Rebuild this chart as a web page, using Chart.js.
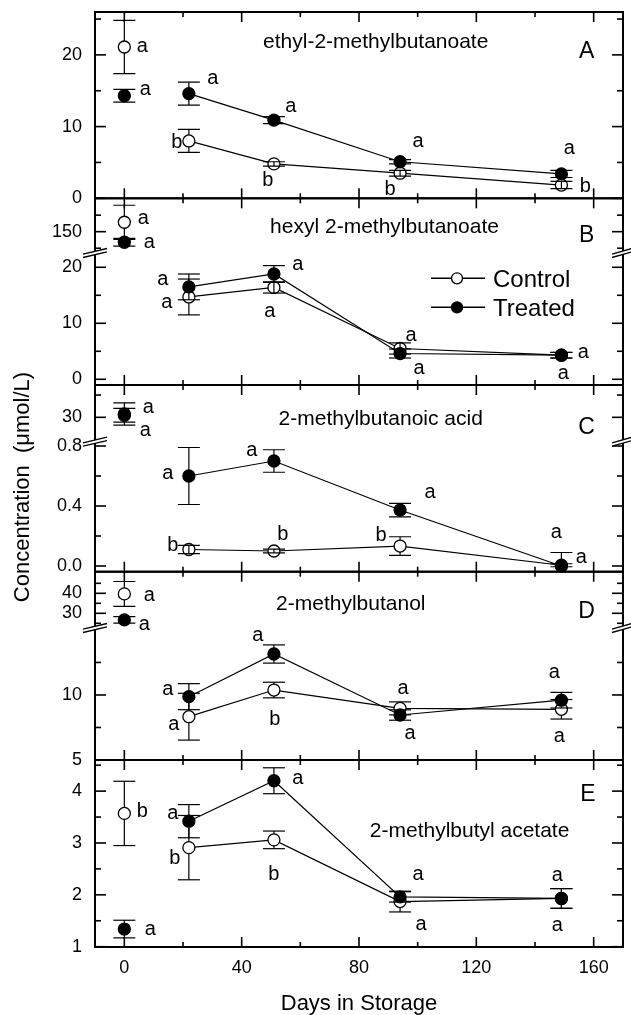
<!DOCTYPE html>
<html>
<head>
<meta charset="utf-8">
<title>Ester and alcohol concentrations during storage</title>
<script src="https://cdn.jsdelivr.net/npm/chart.js@4.4.1/dist/chart.umd.min.js"></script>
<style>
    html, body { margin: 0; padding: 0; background: #fff; }
    #fig { display: block; }
</style>
</head>
<body>
<canvas id="fig" width="631" height="1015"></canvas>
<script>
// Jours de stockage et graduations de l'axe X
const days = [0, 22, 51, 94, 149];
const xTickValues = [0, 40, 80, 120, 160];
const seriesNames = ['Control', 'Treated'];

// A - ethyl-2-methylbutanoate
const ctrlA = [21.1, 8.0, 4.8, 3.5, 1.85];
const ctrlErrA = [3.7, 1.6, 0.3, 0.4, 0.5];
const trtA = [14.3, 14.6, 10.9, 5.1, 3.4];
const trtErrA = [0.9, 1.6, 0.5, 0.3, 0.5];
const ctrlSigA = ['a', 'b', 'b', 'b', 'b'];
const trtSigA = ['a', 'a', 'a', 'a', 'a'];

// B - hexyl 2-methylbutanoate
const ctrlB = [155.7, 14.7, 16.4, 5.5, 4.3];
const ctrlErrB = [10.3, 3.2, 1.0, 1.0, 0.5];
const trtB = [143.6, 16.5, 18.8, 4.6, 4.3];
const trtErrB = [2.3, 2.3, 1.5, 0.8, 0.5];
const ctrlSigB = ['a', 'a', 'a', 'a', 'a'];
const trtSigB = ['a', 'a', 'a', 'a', 'a'];

// C - 2-methylbutanoic acid
const ctrlC = [31.5, 0.11, 0.10, 0.133, 0.005];
const ctrlErrC = [5.0, 0.028, 0.012, 0.062, 0.01];
const trtC = [30.9, 0.60, 0.70, 0.373, 0.0];
const trtErrC = [3.1, 0.19, 0.075, 0.045, 0.09];
const ctrlSigC = ['a', 'b', 'b', 'b', 'a'];
const trtSigC = ['a', 'a', 'a', 'a', 'a'];

// D - 2-methylbutanol
const ctrlD = [39.7, 8.33, 10.38, 8.97, 8.9];
const ctrlErrD = [6.2, 1.8, 0.6, 0.5, 0.75];
const trtD = [26.7, 9.87, 13.15, 8.46, 9.6];
const trtErrD = [1.6, 1.0, 0.7, 0.4, 0.6];
const ctrlSigD = ['a', 'a', 'b', 'a', 'a'];
const trtSigD = ['a', 'a', 'a', 'a', 'a'];

// E - 2-methylbutyl acetate
const ctrlE = [3.57, 2.91, 3.06, 1.87, 1.93];
const ctrlErrE = [0.62, 0.62, 0.17, 0.2, 0.19];
const trtE = [1.34, 3.42, 4.2, 1.96, 1.93];
const trtErrE = [0.17, 0.32, 0.25, 0.1, 0.19];
const ctrlSigE = ['b', 'b', 'b', 'a', 'a'];
const trtSigE = ['a', 'a', 'a', 'a', 'a'];

// Graduations Y (majeures avec libellé, mineures sans)
const yTicksA = [0, 10, 20],       yMinorA = [5, 15, 25];
const yTicksBu = [150],            yMinorBu = [140, 160];
const yTicksBl = [0, 10, 20],      yMinorBl = [5, 15];
const yTicksCu = [30],             yMinorCu = [40];
const yTicksCl = [0, 0.4, 0.8],    yMinorCl = [0.2, 0.6];
const yTicksDu = [30, 40],         yMinorDu = [25, 35, 45];
const yTicksDl = [5, 10],          yMinorDl = [7.5, 12.5];
const yTicksE = [1, 2, 3, 4],      yMinorE = [1.5, 2.5, 3.5, 4.5];

const FONT = '"Liberation Sans", Arial, Helvetica, sans-serif';

const axisTicks = {
    yA: [yTicksA, yMinorA], yBu: [yTicksBu, yMinorBu], yBl: [yTicksBl, yMinorBl],
    yCu: [yTicksCu, yMinorCu], yCl: [yTicksCl, yMinorCl], yDu: [yTicksDu, yMinorDu],
    yDl: [yTicksDl, yMinorDl], yE: [yTicksE, yMinorE]
};

// Position des lettres de significativité (décalage en px par rapport au point)
const sigOffsets = {
    A: { ctrl: [[18, 0], [-12, 0], [-6, 15], [-10, 14], [24, -1]],
         trt:  [[21, -6], [24, -15], [17, -14], [18, -20], [8, -25]] },
    B: { ctrl: [[19, -4], [-22, 6], [-4, 24], [11, -13], [2, 18]],
         trt:  [[25, 0], [-26, -7], [24, -10], [19, 15], [22, -3]] },
    C: { ctrl: [[21, 17], [-16, -6], [9, -19], [-19, -13], [20, -8]],
         trt:  [[24, -8], [-21, -3], [-22, -11], [30, -18], [-5, -34]] },
    D: { ctrl: [[25, 2], [-15, 8], [1, 27], [3, -20], [-2, 27]],
         trt:  [[20, 5], [-21, -7], [-16, -19], [10, 18], [-7, -28]] },
    E: { ctrl: [[18, -4], [-14, 9], [0, 33], [21, 23], [-4, 27]],
         trt:  [[26, 0], [-16, -8], [24, -2], [18, -22], [-4, -23]] }
};

const panels = [
    { key: 'A', title: 'ethyl-2-methylbutanoate', segs: ['yA'],
      ctrl: ctrlA, ctrlErr: ctrlErrA, trt: trtA, trtErr: trtErrA, ctrlSig: ctrlSigA, trtSig: trtSigA,
      titleAt: [85.7, 21.66], letterAt: [157.6, 20.7] },
    { key: 'B', title: 'hexyl 2-methylbutanoate', segs: ['yBu', 'yBl'],
      ctrl: ctrlB, ctrlErr: ctrlErrB, trt: trtB, trtErr: trtErrB, ctrlSig: ctrlSigB, trtSig: trtSigB,
      titleAt: [88.7, 152.4], letterAt: [157.6, 149] },
    { key: 'C', title: '2-methylbutanoic acid', segs: ['yCu', 'yCl'],
      ctrl: ctrlC, ctrlErr: ctrlErrC, trt: trtC, trtErr: trtErrC, ctrlSig: ctrlSigC, trtSig: trtSigC,
      titleAt: [87.4, 29.2], letterAt: [157.6, 26.5] },
    { key: 'D', title: '2-methylbutanol', segs: ['yDu', 'yDl'],
      ctrl: ctrlD, ctrlErr: ctrlErrD, trt: trtD, trtErr: trtErrD, ctrlSig: ctrlSigD, trtSig: trtSigD,
      titleAt: [77.2, 34.2], letterAt: [157.6, 32] },
    { key: 'E', title: '2-methylbutyl acetate', segs: ['yE'],
      ctrl: ctrlE, ctrlErr: ctrlErrE, trt: trtE, trtErr: trtErrE, ctrlSig: ctrlSigE, trtSig: trtSigE,
      titleAt: [117.7, 3.216], letterAt: [158, 3.98] }
];

/**
 * Construit les jeux de données : le jour 0 est isolé (axe haut), les autres jours sont reliés
 */
function buildDatasets() {
    const datasets = [];
    panels.forEach(p => {
        const upper = p.segs[0];
        const lower = p.segs[p.segs.length - 1];
        [['trt', true], ['ctrl', false]].forEach(([k, filled]) => {
            const vals = p[k], errs = p[k + 'Err'], sig = p[k + 'Sig'], off = sigOffsets[p.key][k];
            const base = {
                label: filled ? seriesNames[1] : seriesNames[0],
                borderColor: '#000',
                borderWidth: 1.2,
                tension: 0,
                pointRadius: 6,
                pointHoverRadius: 6,
                pointBorderWidth: 1.3,
                pointBorderColor: '#000',
                pointBackgroundColor: filled ? '#000' : '#fff',
                order: filled ? 0 : 1,
                clip: false
            };
            datasets.push(Object.assign({}, base, {
                data: [{ x: days[0], y: vals[0] }],
                yAxisID: upper,
                showLine: false,
                errors: [errs[0]], sig: [sig[0]], sigOff: [off[0]]
            }));
            datasets.push(Object.assign({}, base, {
                data: days.slice(1).map((d, i) => ({ x: d, y: vals[i + 1] })),
                yAxisID: lower,
                showLine: true,
                errors: errs.slice(1), sig: sig.slice(1), sigOff: off.slice(1)
            }));
        });
    });
    return datasets;
}

function yScale(min, max, height, weight, ticks, dec) {
    return {
        type: 'linear',
        position: 'left',
        stack: 'fig',
        stackWeight: height,
        weight: weight,
        min: min,
        max: max,
        grid: { display: false, drawTicks: false },
        border: { display: false },
        ticks: {
            autoSkip: false,
            padding: 13,
            color: '#000',
            font: { family: FONT, size: 18 },
            callback: v => Number(v).toFixed(dec)
        },
        afterBuildTicks: s => { s.ticks = ticks.map(v => ({ value: v })); },
        afterFit: s => {
            s.width = 95;
            // pas de marge réservée aux libellés extrêmes
            s.paddingTop = 0;
            s.paddingBottom = 0;
        }
    };
}

// Texte centré sur son encre
function inkText(ctx, text, x, y, size, align) {
    ctx.font = size + 'px ' + FONT;
    ctx.textAlign = align || 'center';
    ctx.textBaseline = 'alphabetic';
    const m = ctx.measureText(text);
    ctx.fillText(text, x, y + (m.actualBoundingBoxAscent - m.actualBoundingBoxDescent) / 2);
}

function seg(ctx, x1, y1, x2, y2) {
    ctx.beginPath();
    ctx.moveTo(x1, y1);
    ctx.lineTo(x2, y2);
    ctx.stroke();
}

function drawBreak(ctx, x, y, half) {
    const dy = 2.8, gap = 1.7;
    ctx.save();
    ctx.fillStyle = '#fff';
    ctx.beginPath();
    ctx.moveTo(x - half, y + dy - gap);
    ctx.lineTo(x + half, y - dy - gap);
    ctx.lineTo(x + half, y - dy + gap);
    ctx.lineTo(x - half, y + dy + gap);
    ctx.closePath();
    ctx.fill();
    ctx.lineWidth = 1.3;
    ctx.strokeStyle = '#000';
    seg(ctx, x - half, y + dy - gap, x + half, y - dy - gap);
    seg(ctx, x - half, y + dy + gap, x + half, y - dy + gap);
    ctx.restore();
}

const figurePlugin = {
    id: 'figure',
    afterDatasetsDraw(chart) {
        const { ctx, chartArea: ca } = chart;
        // Barres d'erreur
        chart.data.datasets.forEach((ds, i) => {
            const meta = chart.getDatasetMeta(i);
            const ys = chart.scales[ds.yAxisID];
            ctx.save();
            ctx.beginPath();
            ctx.rect(ca.left, ys.top, ca.right - ca.left, ys.bottom - ys.top);
            ctx.clip();
            ctx.strokeStyle = '#000';
            ctx.lineWidth = 1.2;
            meta.data.forEach((pt, j) => {
                const v = ds.data[j].y, e = ds.errors[j];
                const yTop = ys.getPixelForValue(v + e);
                const yBot = ys.getPixelForValue(v - e);
                const r = ds.pointRadius;
                if (pt.y - yTop <= r) {
                    seg(ctx, pt.x, yTop, pt.x, yBot);
                } else {
                    seg(ctx, pt.x, pt.y - r, pt.x, yTop);
                    seg(ctx, pt.x, pt.y + r, pt.x, yBot);
                }
                seg(ctx, pt.x - 11, yTop, pt.x + 11, yTop);
                seg(ctx, pt.x - 11, yBot, pt.x + 11, yBot);
            });
            ctx.restore();
        });
        // Lettres de significativité
        ctx.save();
        ctx.fillStyle = '#000';
        chart.data.datasets.forEach((ds, i) => {
            const meta = chart.getDatasetMeta(i);
            meta.data.forEach((pt, j) => {
                const [dx, dy] = ds.sigOff[j];
                inkText(ctx, ds.sig[j], pt.x + dx, pt.y + dy, 20, 'center');
            });
        });
        ctx.restore();
    },
    afterDraw(chart) {
        const { ctx, chartArea: ca, scales } = chart;
        const xs = scales.x;
        ctx.save();
        ctx.strokeStyle = '#000';
        ctx.fillStyle = '#000';
        panels.forEach(p => {
            const top = scales[p.segs[0]].top;
            const bottom = scales[p.segs[p.segs.length - 1]].bottom;
            ctx.lineWidth = 2;
            ctx.strokeRect(ca.left, top, ca.right - ca.left, bottom - top);
            // Graduations X vers l'intérieur
            ctx.lineWidth = 1.6;
            for (let d = 0; d <= 160; d += 20) {
                const px = xs.getPixelForValue(d);
                const len = xTickValues.includes(d) ? 10 : 5;
                seg(ctx, px, top, px, top + len);
                seg(ctx, px, bottom, px, bottom - len);
            }
            // Graduations Y gauche et droite
            p.segs.forEach(id => {
                const s = scales[id];
                const [major, minor] = axisTicks[id];
                major.forEach(v => {
                    const py = s.getPixelForValue(v);
                    seg(ctx, ca.left, py, ca.left + 11, py);
                    seg(ctx, ca.right, py, ca.right - 11, py);
                });
                minor.forEach(v => {
                    const py = s.getPixelForValue(v);
                    seg(ctx, ca.left, py, ca.left + 6, py);
                    seg(ctx, ca.right, py, ca.right - 6, py);
                });
            });
            if (p.segs.length > 1) {
                const yb = scales[p.segs[0]].bottom;
                drawBreak(ctx, ca.left, yb, 12);
                drawBreak(ctx, ca.right - 1, yb, 10);
            }
            // Titre et lettre du panneau
            const ys = scales[p.segs[0]];
            inkText(ctx, p.title, xs.getPixelForValue(p.titleAt[0]), ys.getPixelForValue(p.titleAt[1]), 21, 'center');
            inkText(ctx, p.key, xs.getPixelForValue(p.letterAt[0]), ys.getPixelForValue(p.letterAt[1]), 23, 'center');
        });

        // Légende (dans le panneau B)
        const lx = ca.left + 336, ly = scales.yBl.top + 25.3;
        ['Control', 'Treated'].forEach((name, i) => {
            const y = ly + i * 29;
            ctx.lineWidth = 1.5;
            seg(ctx, lx, y, lx + 54, y);
            ctx.beginPath();
            ctx.arc(lx + 26, y, 5.5, 0, Math.PI * 2);
            ctx.fillStyle = i === 0 ? '#fff' : '#000';
            ctx.fill();
            ctx.lineWidth = 1.3;
            ctx.stroke();
            ctx.fillStyle = '#000';
            inkText(ctx, seriesNames[i], lx + 62, y, 24, 'left');
        });

        // Titre de l'axe Y
        ctx.save();
        ctx.translate(23, 487);
        ctx.rotate(-Math.PI / 2);
        inkText(ctx, 'Concentration  (\u03bcmol/L)', 0, 0, 22, 'center');
        ctx.restore();
        ctx.restore();
    }
};

document.addEventListener('DOMContentLoaded', function() {
    const ctx = document.getElementById('fig').getContext('2d');
    new Chart(ctx, {
        type: 'line',
        data: { datasets: buildDatasets() },
        options: {
            responsive: false,
            animation: false,
            devicePixelRatio: 1,
            layout: { padding: { top: 12, right: 8, left: 0, bottom: 0 } },
            plugins: { legend: { display: false }, tooltip: { enabled: false } },
            scales: {
                x: {
                    type: 'linear',
                    position: 'bottom',
                    min: -10,
                    max: 170,
                    grid: { display: false, drawTicks: false },
                    border: { display: false },
                    ticks: { padding: 10, color: '#000', font: { family: FONT, size: 18 } },
                    afterBuildTicks: s => { s.ticks = xTickValues.map(v => ({ value: v })); },
                    afterFit: s => {
                        s.height = 68;
                        s.paddingLeft = 0;
                        s.paddingRight = 0;
                    },
                    title: {
                        display: true,
                        text: 'Days in Storage',
                        color: '#000',
                        font: { family: FONT, size: 22, lineHeight: 1 },
                        padding: { top: 0, bottom: 0 }
                    }
                },
                yA:  yScale(0, 25.98, 186.3, 8, yTicksA, 0),
                yBu: yScale(137.1, 170.2, 54.7, 7, yTicksBu, 0),
                yBl: yScale(-1.02, 22.55, 132, 6, yTicksBl, 0),
                yCu: yScale(19.06, 44.5, 56.7, 5, yTicksCu, 0),
                yCl: yScale(-0.038, 0.8287, 130, 4, yTicksCl, 1),
                yDu: yScale(22.65, 50.8, 56.3, 3, yTicksDu, 0),
                yDl: yScale(5, 15.15, 132, 2, yTicksDl, 0),
                yE:  yScale(0.994, 4.6, 187, 1, yTicksE, 0)
            }
        },
        plugins: [figurePlugin]
    });
});
</script>
</body>
</html>
